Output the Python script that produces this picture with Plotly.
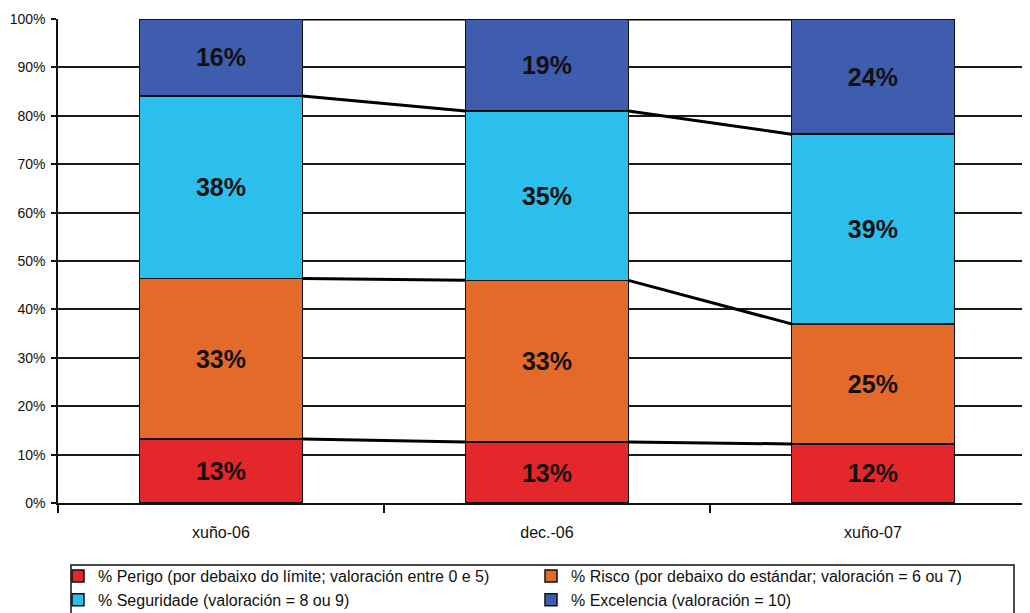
import plotly.graph_objects as go

categories = ["xuño-06", "dec.-06", "xuño-07"]
perigo = [13.2, 12.6, 12.2]
risco = [33.2, 33.4, 24.8]
seguridade = [37.7, 35.0, 39.2]
excelencia = [15.9, 19.0, 23.8]

series_names = [
    "% Perigo (por debaixo do límite; valoración entre 0 e 5)",
    "% Risco (por debaixo do estándar; valoración = 6 ou 7)",
    "% Seguridade (valoración = 8 ou 9)",
    "% Excelencia (valoración = 10)",
]
series_values = [perigo, risco, seguridade, excelencia]
series_colors = ["#E3272B", "#E46A2A", "#2CBFEC", "#3E5DAE"]

y_ticks = list(range(0, 101, 10))

FONT = "Arial, 'Liberation Sans', sans-serif"
BAR_W = 0.5
xpos = list(range(len(categories)))

# the page body has an 8px margin, so the figure is sized to the visible area
OFF = 8
W, H = 1030 - OFF, 613 - OFF
ML, MR, MT = 58 - OFF, 0, 19 - OFF
MB = H - (503 - OFF)
PW, PH = W - ML - MR, H - MT - MB


def px_to_paper_x(px):  # px in window coordinates
    return (px - OFF - ML) / PW


def px_to_paper_y(py):  # py in window coordinates
    return (H - MB - (py - OFF)) / PH


fig = go.Figure()

for name, vals, col in zip(series_names, series_values, series_colors):
    fig.add_trace(go.Bar(
        x=xpos, y=vals, name=name, width=BAR_W,
        marker=dict(color=col, line=dict(color="#111111", width=1.5)),
        text=[f"{round(v)}%" for v in vals],
        textposition="inside", insidetextanchor="middle",
        textfont=dict(family=FONT, size=25, color="#111111", weight="bold"),
        constraintext="none",
        hoverinfo="skip",
    ))

# series lines connecting cumulative boundaries between bars
cum = [0.0] * len(categories)
for vals in series_values:
    cum = [c + v for c, v in zip(cum, vals)]
    for i in range(len(categories) - 1):
        fig.add_trace(go.Scatter(
            x=[xpos[i] + BAR_W / 2, xpos[i + 1] - BAR_W / 2],
            y=[cum[i], cum[i + 1]],
            mode="lines", line=dict(color="#000000", width=3),
            showlegend=False, hoverinfo="skip",
        ))

# legend frame
fig.add_shape(
    type="rect", xref="paper", yref="paper",
    x0=px_to_paper_x(71), x1=px_to_paper_x(1014),
    y0=px_to_paper_y(640), y1=px_to_paper_y(565),
    line=dict(color="#111111", width=1.5), fillcolor="rgba(0,0,0,0)",
)

fig.update_layout(
    barmode="stack",
    width=W, height=H,
    margin=dict(l=ML, r=MR, t=MT, b=MB, autoexpand=False),
    paper_bgcolor="white", plot_bgcolor="white",
    font=dict(family=FONT, color="#111111"),
    showlegend=True,
    legend=dict(
        orientation="h", traceorder="normal",
        x=px_to_paper_x(58), xanchor="left", y=px_to_paper_y(559), yanchor="top",
        borderwidth=0, bgcolor="rgba(0,0,0,0)",
        font=dict(family=FONT, size=16, color="#111111"),
        entrywidth=428, entrywidthmode="pixels",
        itemwidth=30,
    ),
)

fig.update_xaxes(
    range=[-0.5, 2.482],
    tickmode="array", tickvals=xpos, ticktext=categories,
    ticks="", showgrid=False, zeroline=False,
    showline=True, linecolor="#111111", linewidth=1.5,
    ticklabelstandoff=14,
    tickfont=dict(family=FONT, size=16, color="#111111"),
    minor=dict(tickmode="array", tickvals=[-0.5, 0.5, 1.5, 2.5],
               ticks="outside", ticklen=8, tickwidth=1.5, tickcolor="#111111"),
)

fig.update_yaxes(
    range=[0, 100],
    tickmode="array", tickvals=y_ticks, ticktext=[f"{t}%" for t in y_ticks],
    showgrid=True, gridcolor="#1a1a1a", gridwidth=1.5,
    zeroline=False,
    showline=True, linecolor="#111111", linewidth=1.5,
    ticks="outside", ticklen=5, tickwidth=1.5, tickcolor="#111111",
    ticklabelstandoff=3,
    tickfont=dict(family=FONT, size=14, color="#111111"),
)

fig.write_html("out.html")
